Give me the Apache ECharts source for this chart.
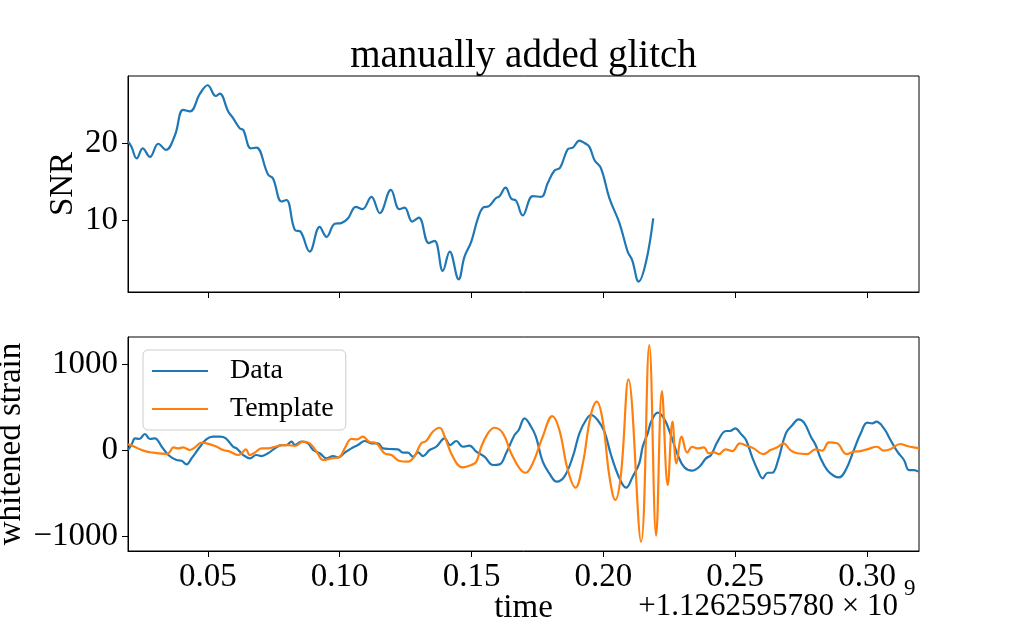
<!DOCTYPE html>
<html>
<head>
<meta charset="utf-8">
<script src="https://cdn.jsdelivr.net/npm/echarts@6/dist/echarts.min.js"></script>
<style>html,body{margin:0;padding:0;background:#fff}#c{width:1021px;height:631px}</style>
</head>
<body>
<div id="c"></div>
<script>
var FONT = 'Liberation Serif';
var xTicks = [0.05, 0.10, 0.15, 0.20, 0.25, 0.30];
var snrTicks = [10, 20];
var strainTicks = [-1000, 0, 1000];

var snrTime = [0.0197,0.0210,0.0230,0.0253,0.0280,0.0312,0.0341,0.0375,0.0406,0.0432,0.0470,0.0499,0.0530,0.0545,0.0577,0.0596,0.0621,0.0634,0.0663,0.0684,0.0728,0.0747,0.0779,0.0798,0.0830,0.0851,0.0886,0.0924,0.0950,0.0981,0.1006,0.1031,0.1061,0.1086,0.1120,0.1152,0.1194,0.1226,0.1246,0.1275,0.1300,0.1338,0.1360,0.1391,0.1417,0.1451,0.1473,0.1499,0.1524,0.1543,0.1566,0.1591,0.1606,0.1629,0.1650,0.1669,0.1694,0.1732,0.1764,0.1789,0.1814,0.1836,0.1865,0.1884,0.1909,0.1928,0.1947,0.1966,0.1991,0.2023,0.2061,0.2092,0.2109,0.2134,0.2162,0.2189];
var snrValues = [20.2,19.5,18.0,19.3,18.2,19.9,19.1,21.0,24.3,24.1,26.4,27.5,26.1,26.4,24.1,23.2,21.9,21.7,19.3,19.4,15.9,15.4,12.4,12.6,8.7,8.5,5.9,9.1,7.8,9.5,9.6,10.2,11.7,11.4,13.0,10.9,13.9,11.4,11.6,9.8,10.3,7.0,7.3,3.4,5.9,2.3,5.2,7.2,10.2,11.6,11.8,12.8,13.1,14.2,12.8,12.5,10.6,13.1,13.0,14.8,16.4,16.8,19.2,19.4,20.3,20.0,19.5,17.8,16.7,12.8,9.6,5.9,4.8,2.0,4.6,10.2];

var dataTime = [0.0197,0.0210,0.0224,0.0240,0.0261,0.0280,0.0299,0.0325,0.0350,0.0381,0.0400,0.0419,0.0438,0.0470,0.0495,0.0520,0.0545,0.0568,0.0596,0.0609,0.0634,0.0659,0.0684,0.0703,0.0728,0.0754,0.0779,0.0798,0.0817,0.0830,0.0855,0.0880,0.0899,0.0924,0.0950,0.0975,0.0994,0.1019,0.1044,0.1069,0.1095,0.1120,0.1145,0.1164,0.1189,0.1220,0.1240,0.1259,0.1278,0.1297,0.1316,0.1341,0.1366,0.1398,0.1419,0.1442,0.1467,0.1492,0.1518,0.1549,0.1581,0.1606,0.1631,0.1663,0.1679,0.1701,0.1726,0.1744,0.1770,0.1795,0.1823,0.1852,0.1884,0.1909,0.1934,0.1953,0.1978,0.2004,0.2029,0.2061,0.2086,0.2111,0.2136,0.2149,0.2168,0.2181,0.2206,0.2231,0.2256,0.2282,0.2307,0.2336,0.2364,0.2389,0.2408,0.2433,0.2465,0.2480,0.2500,0.2522,0.2541,0.2566,0.2585,0.2604,0.2623,0.2640,0.2661,0.2692,0.2717,0.2740,0.2761,0.2787,0.2805,0.2824,0.2849,0.2875,0.2894,0.2919,0.2950,0.2976,0.3001,0.3020,0.3035,0.3064,0.3089,0.3115,0.3140,0.3159,0.3178,0.3194];
var dataValues = [0,58,136,128,186,128,136,38,-58,-116,-124,-167,-97,38,128,155,155,136,38,19,-58,-97,-58,-70,-38,19,58,58,97,58,97,78,0,-38,-97,-70,-85,-31,19,58,105,78,78,19,12,8,-31,-31,-78,-27,-70,0,38,136,58,105,38,50,-19,-78,-174,-167,-38,174,233,368,271,155,-136,-271,-368,-310,-78,194,349,407,349,213,-58,-329,-438,-310,-155,38,194,329,434,360,174,-58,-201,-240,-194,-97,-58,97,221,221,252,186,116,-97,-233,-329,-264,-264,-136,194,291,357,318,155,58,-97,-233,-302,-318,-233,0,194,318,310,329,252,116,-19,-116,-233,-233,-252];

var templateTime = [0.0197,0.0216,0.0242,0.0268,0.0293,0.0318,0.0344,0.0356,0.0369,0.0388,0.0406,0.0432,0.0451,0.0476,0.0495,0.0527,0.0558,0.0583,0.0615,0.0628,0.0644,0.0659,0.0678,0.0703,0.0728,0.0754,0.0785,0.0804,0.0830,0.0861,0.0886,0.0912,0.0937,0.0969,0.1000,0.1019,0.1044,0.1066,0.1088,0.1111,0.1139,0.1170,0.1196,0.1227,0.1259,0.1284,0.1309,0.1328,0.1353,0.1379,0.1398,0.1429,0.1465,0.1499,0.1518,0.1537,0.1562,0.1587,0.1619,0.1650,0.1682,0.1705,0.1732,0.1770,0.1806,0.1833,0.1865,0.1894,0.1922,0.1951,0.1975,0.1997,0.2023,0.2045,0.2067,0.2095,0.2143,0.2174,0.2200,0.2222,0.2244,0.2262,0.2277,0.2297,0.2318,0.2337,0.2356,0.2381,0.2400,0.2419,0.2438,0.2463,0.2489,0.2518,0.2545,0.2570,0.2606,0.2634,0.2659,0.2684,0.2709,0.2735,0.2773,0.2804,0.2830,0.2855,0.2886,0.2922,0.2950,0.2975,0.3000,0.3038,0.3063,0.3088,0.3126,0.3152,0.3183,0.3197];
var templateValues = [66,47,8,-19,-31,-38,-47,-19,31,19,31,0,31,85,78,47,0,-19,-58,-38,8,-58,-31,19,19,38,58,58,47,97,78,-19,-116,-97,-78,19,128,124,155,97,78,-38,-58,-128,-136,-70,78,105,213,259,155,-78,-201,-174,-136,38,194,259,194,-38,-213,-264,-155,155,395,233,-233,-438,-155,388,562,349,-310,-581,-271,822,-1066,1221,-995,686,-407,329,-155,155,-31,38,19,31,-38,-27,-47,8,-12,78,47,19,-47,0,31,78,0,-38,-47,8,-8,89,78,-47,-19,-12,8,38,-8,8,70,47,27,20];

function pairs(xs, ys) { return xs.map(function (x, i) { return [x, ys[i]]; }); }
function minusFmt(v) { return v < 0 ? '\u2212' + Math.abs(v) : String(v); }

var chart = echarts.init(document.getElementById('c'), null, {renderer: 'canvas'});
var axisCommon = {
  axisLine: {show: true, onZero: false, lineStyle: {color: '#000', width: 1}},
  axisTick: {show: true, length: 6, lineStyle: {color: '#000', width: 1}},
  splitLine: {show: false},
  nameMoveOverlap: false
};
var TS = 33;
var xMin = 0.0197, xMax = 0.3197;
chart.setOption({
  animation: false,
  backgroundColor: '#fff',
  textStyle: {fontFamily: FONT},
  grid: [
    {left: 128, top: 76, width: 791, height: 216, show: true, borderColor: '#000', borderWidth: 1, backgroundColor: 'transparent', containLabel: false, outerBoundsMode: 'none'},
    {left: 128, top: 337, width: 791, height: 214, show: true, borderColor: '#000', borderWidth: 1, backgroundColor: 'transparent', containLabel: false, outerBoundsMode: 'none'}
  ],
  xAxis: [
    Object.assign({}, axisCommon, {type: 'value', gridIndex: 0, min: xMin, max: xMax,
      axisTick: Object.assign({}, axisCommon.axisTick, {customValues: xTicks}),
      axisLabel: {show: false, customValues: xTicks}}),
    Object.assign({}, axisCommon, {type: 'value', gridIndex: 1, min: xMin, max: xMax,
      axisTick: Object.assign({}, axisCommon.axisTick, {customValues: xTicks}),
      axisLabel: {show: true, customValues: xTicks, margin: 10, color: '#000', fontFamily: FONT, fontSize: TS,
        formatter: function (v) { return v.toFixed(2); }},
      name: 'time', nameLocation: 'middle', nameGap: 41,
      nameTextStyle: {color: '#000', fontFamily: FONT, fontSize: TS}})
  ],
  yAxis: [
    Object.assign({}, axisCommon, {type: 'value', gridIndex: 0, min: 0.65, max: 28.7,
      axisTick: Object.assign({}, axisCommon.axisTick, {customValues: snrTicks}),
      axisLabel: {show: true, customValues: snrTicks, margin: 10, color: '#000', fontFamily: FONT, fontSize: TS},
      name: 'SNR', nameLocation: 'middle', nameGap: 48, nameRotate: 90,
      nameTextStyle: {color: '#000', fontFamily: FONT, fontSize: TS}}),
    Object.assign({}, axisCommon, {type: 'value', gridIndex: 1, min: -1174, max: 1314,
      axisTick: Object.assign({}, axisCommon.axisTick, {customValues: strainTicks}),
      axisLabel: {show: true, customValues: strainTicks, margin: 10, color: '#000', fontFamily: FONT, fontSize: TS,
        formatter: minusFmt},
      name: 'whitened strain', nameLocation: 'middle', nameGap: 100, nameRotate: 90,
      nameTextStyle: {color: '#000', fontFamily: FONT, fontSize: TS}})
  ],
  legend: {
    show: true, orient: 'vertical', left: 143, top: 350,
    data: [{name: 'Data', icon: 'rect'}, {name: 'Template', icon: 'rect'}],
    itemWidth: 56, itemHeight: 2, itemGap: 8,
    padding: [6, 12, 6, 9],
    borderColor: '#cccccc', borderWidth: 1, borderRadius: 5,
    backgroundColor: 'rgba(255,255,255,0.8)',
    textStyle: {color: '#000', fontFamily: FONT, fontSize: 28, lineHeight: 30, padding: [0, 0, 0, 17]}
  },
  graphic: [
    {type: 'text', x: 523.5, y: 57, style: {text: 'manually added glitch', fill: '#000', font: '39px "' + FONT + '"', align: 'center', verticalAlign: 'middle'}},
    {type: 'text', x: 898, y: 607, style: {text: '+1.1262595780 \u00d7 10', fill: '#000', font: '31px "' + FONT + '"', align: 'right', verticalAlign: 'middle'}},
    {type: 'text', x: 904, y: 589, style: {text: '9', fill: '#000', font: '23px "' + FONT + '"', align: 'left', verticalAlign: 'middle'}}
  ],
  series: [
    {name: 'SNR', type: 'line', xAxisIndex: 0, yAxisIndex: 0, data: pairs(snrTime, snrValues), showSymbol: false, smooth: 0.4,
      lineStyle: {color: '#1f77b4', width: 2.2}, itemStyle: {color: '#1f77b4'}},
    {name: 'Data', type: 'line', xAxisIndex: 1, yAxisIndex: 1, data: pairs(dataTime, dataValues), showSymbol: false, smooth: 0.4,
      lineStyle: {color: '#1f77b4', width: 2.2}, itemStyle: {color: '#1f77b4'}},
    {name: 'Template', type: 'line', xAxisIndex: 1, yAxisIndex: 1, data: pairs(templateTime, templateValues), showSymbol: false, smooth: 0.4,
      lineStyle: {color: '#ff7f0e', width: 2.2}, itemStyle: {color: '#ff7f0e'}}
  ]
});
</script>
</body>
</html>
